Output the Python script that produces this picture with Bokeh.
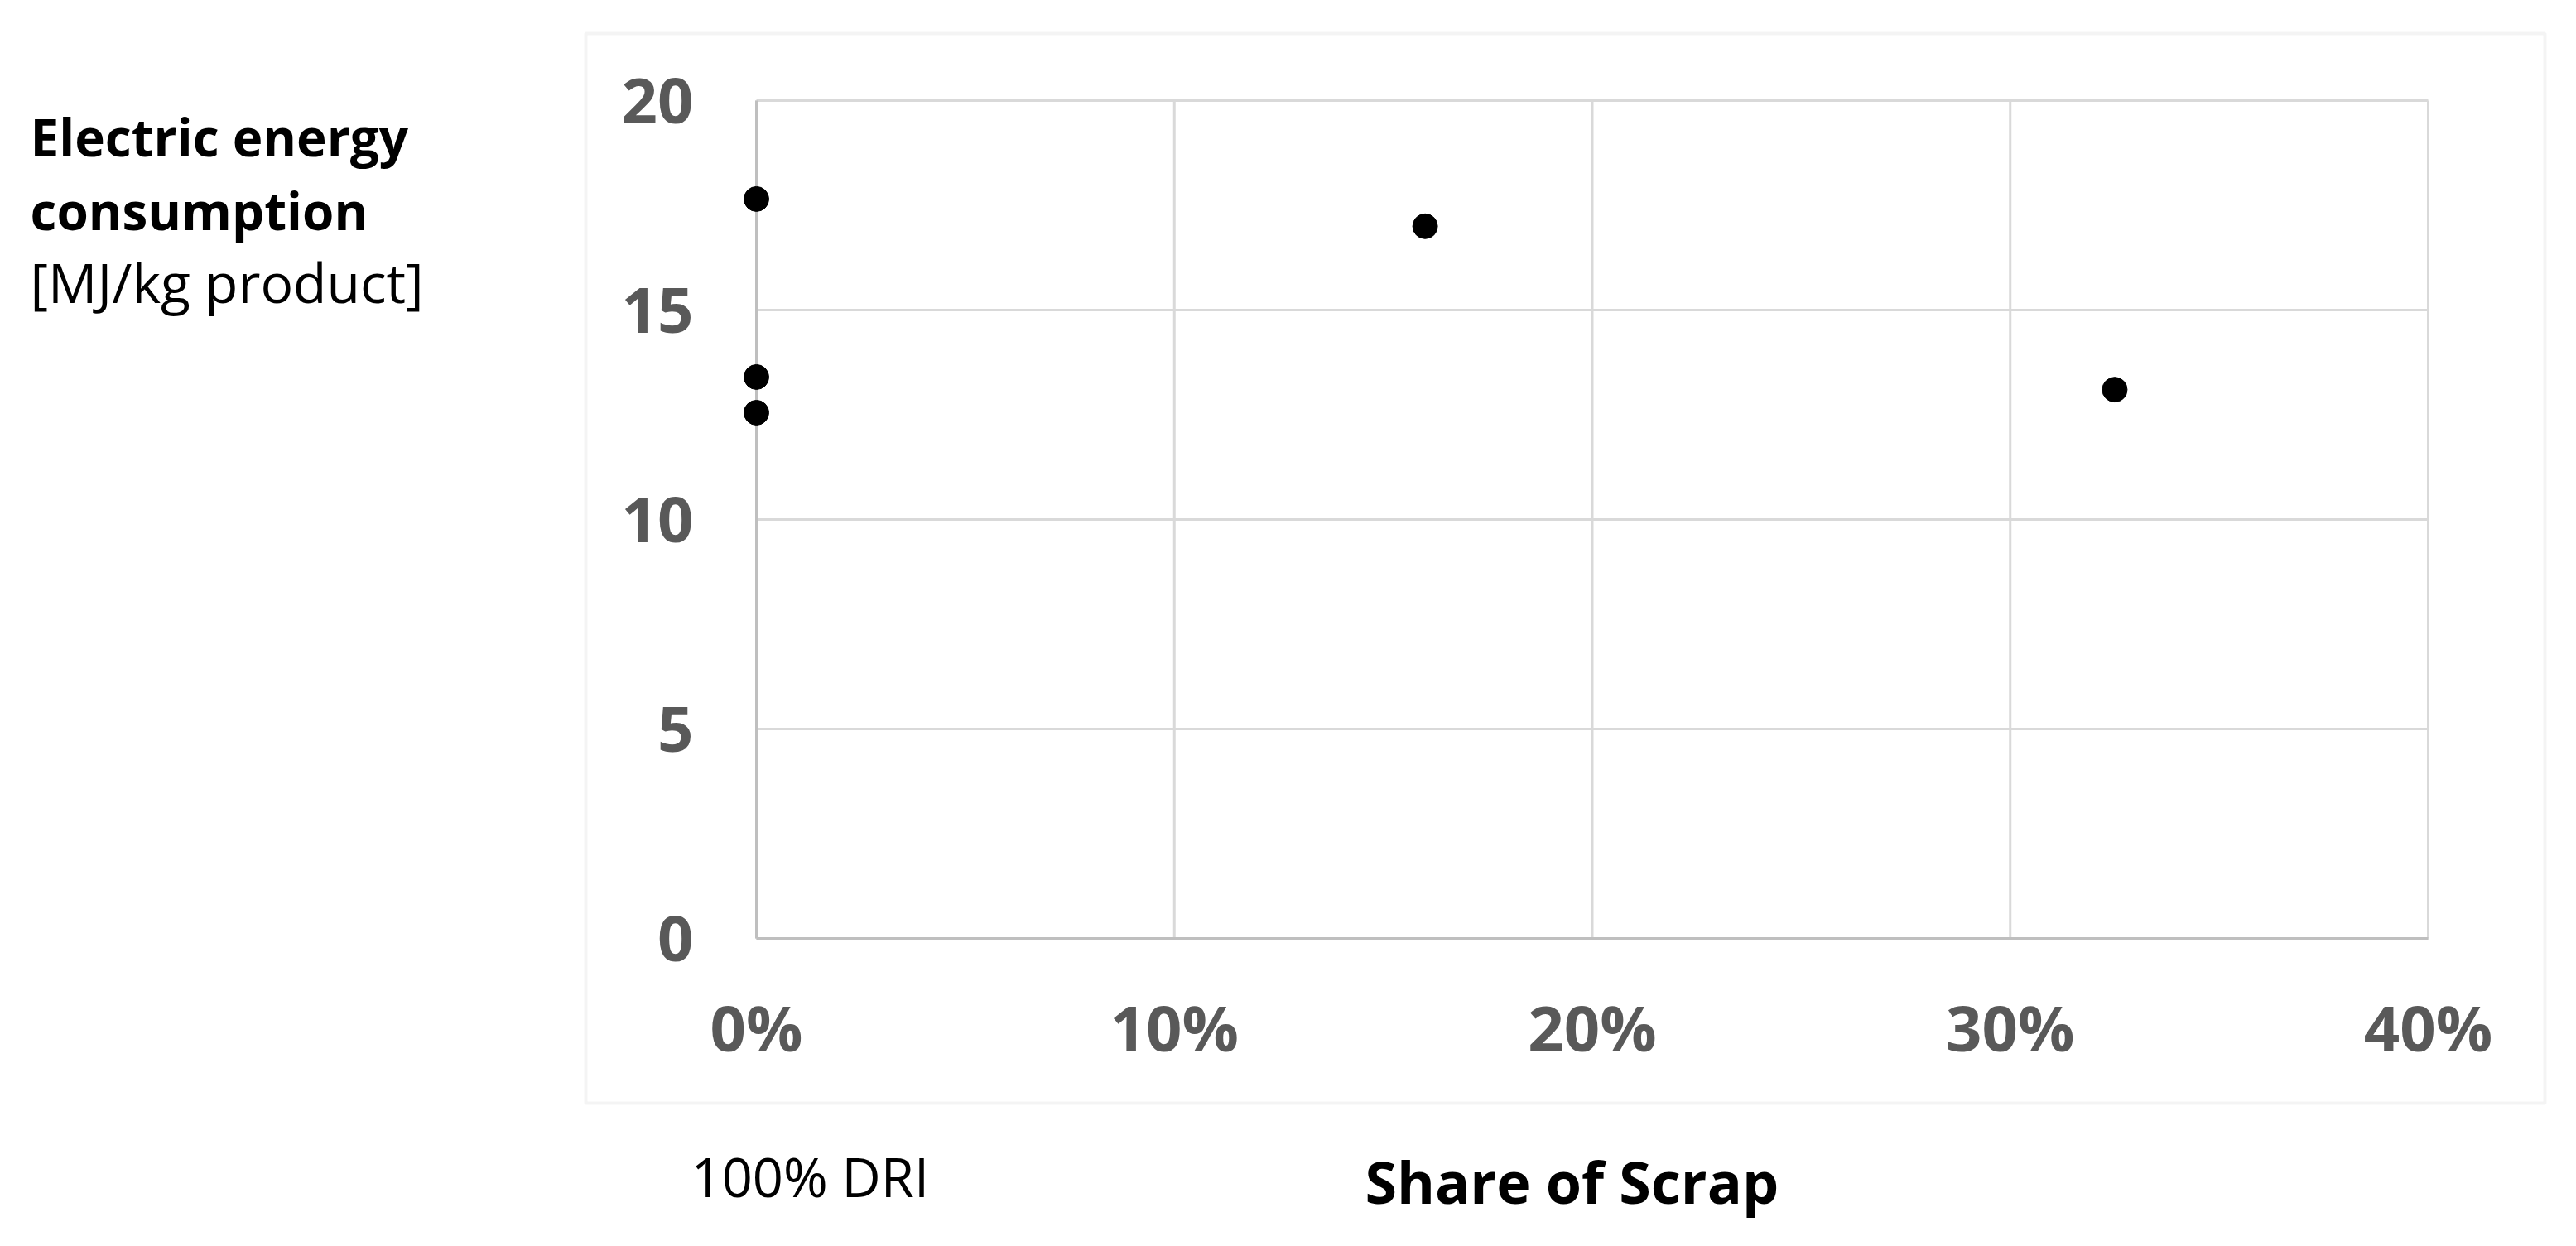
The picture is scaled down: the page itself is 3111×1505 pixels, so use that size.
from bokeh.plotting import figure
from bokeh.models import (Range1d, FixedTicker, NumeralTickFormatter, Label,
                          BoxAnnotation, ColumnDataSource, LinearAxis)
from bokeh.embed import file_html
from bokeh.resources import INLINE

# ---- data ----
scrap_share = [0.0, 0.0, 0.0, 0.16, 0.325]
electric_energy = [17.65, 13.4, 12.55, 17.0, 13.1]
x_ticks = [0.0, 0.1, 0.2, 0.3, 0.4]
y_ticks = [0, 5, 10, 15, 20]
ylabel_lines = ["Electric energy", "consumption", "[MJ/kg product]"]
ylabel_styles = ["bold", "bold", "normal"]
ylabel_sizes = [62, 62, 66]
xlabel_text = "Share of Scrap"
dri_note = "100% DRI"

# ---- layout (canvas pixels) ----
W, H = 3095, 1489
FL, FR, FT, FB = 913, 2932, 121, 1133  # plot-area edges in canvas px
XMIN, XMAX, YMIN, YMAX = 0.0, 0.4, 0.0, 20.0
BASE_SHIFT = 0.38  # label anchor offset above baseline, in em

def dx(px):
    return XMIN + (px - FL) / (FR - FL) * (XMAX - XMIN)

def dy(py):
    return YMIN + (FB - py) / (FB - FT) * (YMAX - YMIN)

FONT = "Open Sans"
GRID = "#d9d9d9"
AXIS = "#bfbfbf"
TICK_COLOR = "#595959"

p = figure(frame_width=W, frame_height=H, output_backend="svg", toolbar_location=None,
           title=None, x_axis_location=None, y_axis_location=None,
           x_range=Range1d(dx(0), dx(W)), y_range=Range1d(dy(H), dy(0)),
           min_border=0)
p.background_fill_color = "white"
p.border_fill_color = "white"
p.outline_line_color = None
p.grid.visible = False

# outer chart-area box
p.add_layout(BoxAnnotation(left=dx(707), right=dx(3073), top=dy(40), bottom=dy(1332),
                           fill_color=None, fill_alpha=0,
                           line_color=GRID, line_width=4, level="underlay"))

# gridlines across the plot area, from the tick lists
p.segment(x0=x_ticks, y0=[YMIN] * len(x_ticks), x1=x_ticks, y1=[YMAX] * len(x_ticks),
          line_color=GRID, line_width=3)
p.segment(x0=[XMIN] * len(y_ticks), y0=y_ticks, x1=[XMAX] * len(y_ticks), y1=y_ticks,
          line_color=GRID, line_width=3)

xaxis = LinearAxis(fixed_location=YMIN, bounds=(XMIN, XMAX),
                   ticker=FixedTicker(ticks=x_ticks),
                   formatter=NumeralTickFormatter(format="0%"))
yaxis = LinearAxis(fixed_location=XMIN, bounds=(YMIN, YMAX),
                   ticker=FixedTicker(ticks=y_ticks))
for ax in (xaxis, yaxis):
    ax.axis_line_color = AXIS
    ax.axis_line_width = 3
    ax.major_tick_line_color = None
    ax.minor_tick_line_color = None
    ax.major_tick_out = 0
    ax.major_tick_in = 0
    ax.major_label_text_font = FONT
    ax.major_label_text_font_style = "bold"
    ax.major_label_text_font_size = "76px"
    ax.major_label_text_color = TICK_COLOR
xaxis.major_label_standoff = 55
yaxis.major_label_standoff = 76
p.add_layout(xaxis, "below")
p.add_layout(yaxis, "left")

src = ColumnDataSource(data=dict(x=scrap_share, y=electric_energy))
p.scatter("x", "y", source=src, size=30, marker="circle",
          fill_color="black", line_color="black", level="overlay")

def add_text(txt, left_px, baseline_px, size, style):
    p.add_layout(Label(x=dx(left_px), y=dy(baseline_px - BASE_SHIFT * size), text=txt,
                       text_font=FONT, text_font_style=style,
                       text_font_size=f"{size}px", text_color="black",
                       text_align="left", text_baseline="alphabetic"))

# y title (three lines)
for txt, yb, st, fs in zip(ylabel_lines, [188, 277, 365], ylabel_styles, ylabel_sizes):
    add_text(txt, 36, yb, fs, st)

# x title and note
add_text(xlabel_text, 1648, 1453, 70, "bold")
add_text(dri_note, 834, 1445, 65, "normal")

open("out.html", "w").write(file_html(p, INLINE))
